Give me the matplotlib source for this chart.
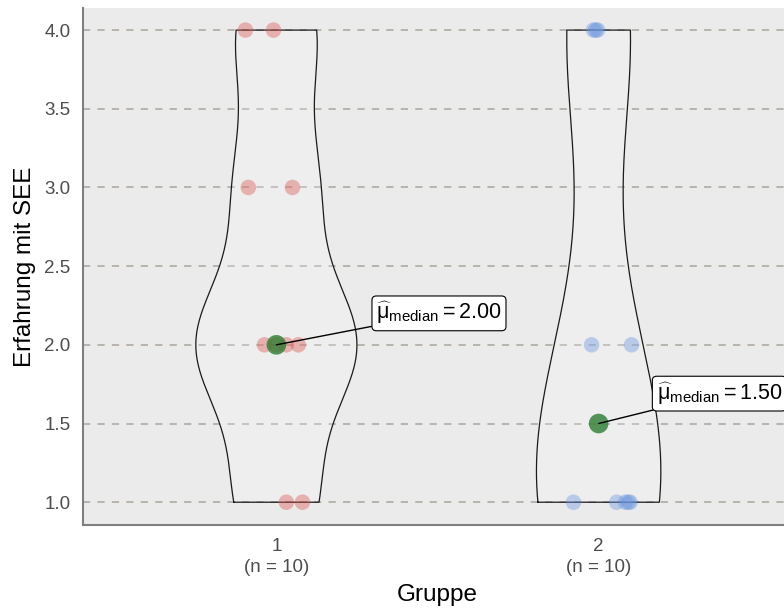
'''
Violin plot of experience (Erfahrung mit SEE) per group,
with jittered points and median labels
'''

import matplotlib.pyplot as plt
import numpy as np

plt.rcParams['font.family'] = ['Liberation Sans', 'DejaVu Sans']
plt.rcParams['mathtext.fontset'] = 'custom'
plt.rcParams['mathtext.rm'] = 'Liberation Sans'
plt.rcParams['mathtext.it'] = 'Liberation Sans'

# data
groups = [1, 2]
group1_values = [4, 4, 3, 3, 2, 2, 2, 2, 1, 1]
group1_jitter = [-0.096, -0.009, -0.087, 0.05, -0.037, 0.0, 0.031, 0.068, 0.031, 0.081]
group2_values = [4, 4, 4, 2, 2, 1, 1, 1, 1, 1]
group2_jitter = [-0.016, -0.009, -0.003, -0.022, 0.102, -0.078, 0.056, 0.083, 0.092, 0.098]
tick_labels = ['1\n(n = 10)', '2\n(n = 10)']
point_colors = ['#D9534F', '#6A96E0']
label_pos = [(1.31, 2.2), (2.18, 1.69)]

values = [np.array(group1_values, float), np.array(group2_values, float)]
jitters = [group1_jitter, group2_jitter]


def bw_nrd0(x):
	sd = np.std(x, ddof=1)
	q75, q25 = np.percentile(x, [75, 25])
	lo = min(sd, (q75 - q25) / 1.34)
	return 0.9 * lo * len(x) ** -0.2


def kde(x, grid):
	h = bw_nrd0(x)
	d = (grid[:, None] - x[None, :]) / h
	return np.exp(-0.5 * d ** 2).sum(axis=1) / (len(x) * h * np.sqrt(2 * np.pi))


fig = plt.figure(figsize=(7.84, 6.10), dpi=100)
ax = fig.add_axes([0.1059, 0.1393, 0.9043, 0.8475])
ax.set_facecolor('#EBEBEB')

# densities, scaled by area (common max)
grids = []
dens = []
for v in values:
	g = np.linspace(v.min(), v.max(), 512)
	grids.append(g)
	dens.append(kde(v, g))
dmax = max(d.max() for d in dens)

for i, grp in enumerate(groups):
	hw = 0.25 * dens[i] / dmax
	xs = np.concatenate([grp - hw, (grp + hw)[::-1], [grp - hw[0]]])
	ys = np.concatenate([grids[i], grids[i][::-1], [grids[i][0]]])
	ax.fill(xs, ys, facecolor='white', alpha=0.2, zorder=2)
	ax.plot(xs, ys, color='#1A1A1A', lw=0.9, zorder=3)

	ax.scatter(grp + np.array(jitters[i]), values[i], s=125, color=point_colors[i],
	           alpha=0.4, edgecolors='none', zorder=4)

	med = np.median(values[i])
	ax.scatter([grp], [med], s=200, color='#2E7D32', alpha=0.8, edgecolors='none', zorder=5)
	ax.annotate(r'$\widehat{\mathrm{\mu}}_{\mathrm{median}} = %.2f$' % med, xy=(grp, med),
	            xytext=label_pos[i], ha='left', va='center', fontsize=15.5, zorder=6,
	            bbox=dict(boxstyle='round,pad=0.2,rounding_size=0.2', fc='white', ec='black', lw=0.8),
	            arrowprops=dict(arrowstyle='-', color='black', lw=1.0, shrinkA=0, shrinkB=0),
	            annotation_clip=False)

ax.set_xlim(0.4, 2.6)
ax.set_ylim(0.855, 4.14)
ax.set_yticks([1.0, 1.5, 2.0, 2.5, 3.0, 3.5, 4.0])
ax.set_yticklabels(['1.0', '1.5', '2.0', '2.5', '3.0', '3.5', '4.0'])
ax.set_xticks(groups)
ax.set_xticklabels(tick_labels, linespacing=1.35)
ax.tick_params(length=0, labelsize=13.5, labelcolor='#4D4D4D')
ax.tick_params(axis='y', pad=9)
ax.tick_params(axis='x', pad=9)

ax.yaxis.grid(True, linestyle=(0, (4, 4)), color='#B4AFA8', lw=1.3)
ax.set_axisbelow(True)
for s in ['top', 'right']:
	ax.spines[s].set_visible(False)
for s in ['left', 'bottom']:
	ax.spines[s].set_color('#7F7F7F')
	ax.spines[s].set_linewidth(1.5)

ax.set_xlabel('Gruppe', fontsize=17.5, labelpad=6)
ax.set_ylabel('Erfahrung mit SEE', fontsize=17.5, labelpad=6)

fig.savefig('out.png', dpi=100)
